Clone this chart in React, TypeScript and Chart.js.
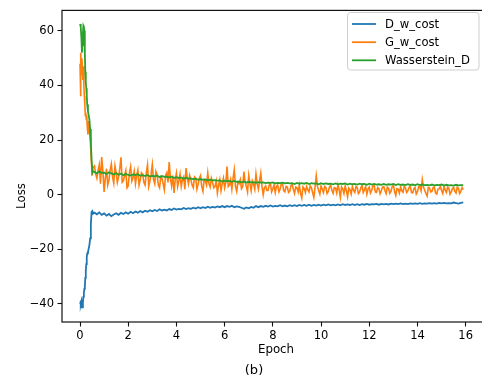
import React, { useEffect, useRef } from "react";
import { Chart, registerables } from "chart.js";

Chart.register(...registerables);

const FONT = "'DejaVu Sans', Verdana, sans-serif";

const SERIES_NAMES = ["D_w_cost", "G_w_cost", "Wasserstein_D"];
const SERIES_COLORS = ["#1f77b4", "#ff7f0e", "#2ca02c"];
const SERIES_WIDTHS = [1.8, 1.6, 1.8];
const X_TICKS = [0, 2, 4, 6, 8, 10, 12, 14, 16];
const Y_TICKS = [-40, -20, 0, 20, 40, 60];
const X_LABEL = "Epoch";
const Y_LABEL = "Loss";
const CAPTION = "(b)";

// first half epoch (sampled densely)
const EPOCHS_WARMUP = [
  0, 0.02, 0.04, 0.06, 0.08, 0.1, 0.12, 0.14, 0.16, 0.18, 0.2, 0.22,
  0.24, 0.26, 0.28, 0.3, 0.33, 0.36, 0.39, 0.42, 0.45, 0.48, 0.51, 0.54,
];
const D_W_COST_WARMUP = [
  -39.5, -38.8, -40.2, -39.0, -40.5, -41.3, -39.5, -37.5, -36.2, -34.5, -33.8, -30.5,
  -28.0, -25.5, -22.8, -21.5, -21.0, -19.8, -18.5, -16.0, -11.0, -6.3, -6.0, -7.0,
];
const G_W_COST_WARMUP = [
  48.0, 36.0, 52.0, 44.0, 50.0, 46.0, 42.0, 47.0, 40.0, 36.0, 33.0, 29.0,
  30.0, 27.5, 29.0, 25.0, 22.0, 27.0, 24.0, 21.0, 16.0, 11.0, 7.0, 10.0,
];
const WASSERSTEIN_D_WARMUP = [
  62.5, 62.3, 61.5, 57.0, 52.0, 54.8, 59.0, 61.9, 61.5, 60.0, 52.0, 45.0,
  41.0, 39.0, 36.0, 33.0, 30.5, 29.0, 27.5, 24.0, 19.0, 13.0, 8.0, 8.6,
];

// rest of training
const EPOCHS_MAIN = [
  0.6, 0.7, 0.8, 0.9, 1.0, 1.1, 1.2, 1.3, 1.4, 1.5,
  1.6, 1.7, 1.8, 1.9, 2.0, 2.1, 2.2, 2.3, 2.4, 2.5,
  2.6, 2.7, 2.8, 2.9, 3.0, 3.1, 3.2, 3.3, 3.4, 3.5,
  3.6, 3.7, 3.8, 3.9, 4.0, 4.1, 4.2, 4.3, 4.4, 4.5,
  4.6, 4.7, 4.8, 4.9, 5.0, 5.1, 5.2, 5.3, 5.4, 5.5,
  5.6, 5.7, 5.8, 5.9, 6.0, 6.1, 6.2, 6.3, 6.4, 6.5,
  6.6, 6.7, 6.8, 6.9, 7.0, 7.1, 7.2, 7.3, 7.4, 7.5,
  7.6, 7.7, 7.8, 7.9, 8.0, 8.1, 8.2, 8.3, 8.4, 8.5,
  8.6, 8.7, 8.8, 8.9, 9.0, 9.1, 9.2, 9.3, 9.4, 9.5,
  9.6, 9.7, 9.8, 9.9, 10.0, 10.1, 10.2, 10.3, 10.4, 10.5,
  10.6, 10.7, 10.8, 10.9, 11.0, 11.1, 11.2, 11.3, 11.4, 11.5,
  11.6, 11.7, 11.8, 11.9, 12.0, 12.1, 12.2, 12.3, 12.4, 12.5,
  12.6, 12.7, 12.8, 12.9, 13.0, 13.1, 13.2, 13.3, 13.4, 13.5,
  13.6, 13.7, 13.8, 13.9, 14.0, 14.1, 14.2, 14.3, 14.4, 14.5,
  14.6, 14.7, 14.8, 14.9, 15.0, 15.1, 15.2, 15.3, 15.4, 15.5,
  15.6, 15.7, 15.8, 15.9,
];
const D_W_COST_MAIN = [
  -6.6, -7.2, -6.5, -7.4, -6.9, -7.7, -7.1, -7.9, -7.3, -6.8,
  -7.4, -6.7, -7.1, -6.5, -7.0, -6.3, -6.8, -6.2, -6.6, -6.0,
  -6.5, -5.9, -6.3, -5.7, -6.1, -5.6, -6.0, -5.4, -5.8, -5.5,
  -5.8, -5.3, -5.6, -5.1, -5.5, -5.2, -5.4, -4.9, -5.3, -5.0,
  -5.2, -4.8, -5.1, -4.6, -5.0, -4.6, -4.9, -4.4, -4.8, -4.5,
  -4.7, -4.3, -4.6, -4.2, -4.6, -4.2, -4.5, -4.1, -4.6, -4.3,
  -4.5, -4.8, -5.2, -4.7, -5.0, -4.5, -4.8, -4.2, -4.6, -4.2,
  -4.5, -4.1, -4.4, -4.0, -4.4, -4.1, -4.3, -3.9, -4.3, -4.0,
  -4.3, -3.9, -4.2, -3.9, -4.2, -3.8, -4.1, -3.8, -4.1, -3.7,
  -4.1, -3.8, -4.0, -3.7, -4.0, -3.7, -3.9, -3.6, -3.9, -3.7,
  -3.9, -3.6, -3.9, -3.5, -3.8, -3.6, -3.8, -3.5, -3.8, -3.5,
  -3.8, -3.5, -3.7, -3.4, -3.7, -3.5, -3.6, -3.4, -3.7, -3.4,
  -3.6, -3.4, -3.6, -3.3, -3.5, -3.3, -3.5, -3.2, -3.5, -3.3,
  -3.5, -3.2, -3.4, -3.2, -3.4, -3.1, -3.4, -3.2, -3.3, -3.1,
  -3.3, -3.1, -3.3, -3.0, -3.2, -3.0, -3.2, -3.1, -3.2, -2.9,
  -3.1, -3.3, -3.0, -2.8,
];
const G_W_COST_MAIN = [
  10.5, 6.0, 11.0, 13.8, 1.0, 9.5, 5.2, 11.2, 4.2, 8.0,
  6.5, 13.7, 5.0, 8.8, 3.2, 10.3, 6.2, 4.0, 9.0, 5.5,
  7.5, 3.5, 10.9, 5.0, 11.0, 4.0, 7.2, 2.5, 6.0, 1.8,
  8.0, 11.9, 3.2, 0.6, 7.9, 5.0, 3.0, 6.5, 9.7, 4.0,
  5.5, 2.5, 6.0, 3.8, 7.0, 1.2, 5.0, 7.9, 2.8, 4.5,
  3.0, 0.6, 5.5, 4.0, 2.5, 10.3, 3.5, 2.0, 9.1, 1.2,
  4.0, 2.2, 8.4, 3.0, 7.0, 1.5, 3.8, 7.5, 2.0, 7.9,
  0.0, 3.2, 1.5, 4.0, 2.2, 0.8, 3.5, 2.0, 4.2, 1.0,
  2.8, 1.2, 3.8, 0.5, 2.5, 3.5, -1.2, 2.2, 3.0, 1.0,
  2.5, -1.0, 6.9, 1.5, 3.2, 0.8, 2.6, 1.2, 3.5, 0.5,
  2.4, 3.6, -1.0, 2.0, 3.2, -0.8, 1.8, 3.0, 0.8, 2.6,
  1.0, 3.4, 1.8, 0.2, 2.8, 1.5, 3.6, 0.8, 2.2, 1.4,
  3.0, 0.4, 2.4, 1.2, 3.4, -0.3, 2.0, 2.8, 0.9, 2.5,
  1.4, 3.2, 0.6, 2.6, 1.1, 3.0, 5.5, 1.6, -0.5, 2.4,
  1.2, 2.8, 0.2, 2.2, 1.5, 3.0, 0.8, 2.4, 1.0, 2.7,
  0.6, 2.3, 1.2, 1.8,
];
const WASSERSTEIN_D_MAIN = [
  8.3, 7.8, 8.5, 7.9, 8.1, 7.5, 8.2, 7.8, 7.4, 7.9,
  7.3, 7.7, 7.1, 7.6, 7.2, 7.0, 7.4, 7.2, 7.5, 6.9,
  7.1, 6.8, 7.2, 6.6, 6.9, 6.7, 7.0, 6.4, 6.8, 6.5,
  6.6, 6.3, 6.6, 6.1, 6.4, 6.1, 6.3, 5.8, 6.2, 5.9,
  5.9, 5.7, 5.8, 5.4, 5.7, 5.4, 5.6, 5.2, 5.5, 5.2,
  5.3, 5.1, 5.2, 4.8, 5.1, 4.9, 5.0, 4.7, 5.0, 4.7,
  4.8, 4.5, 4.8, 4.4, 4.7, 4.5, 4.6, 4.3, 4.6, 4.4,
  4.5, 4.2, 4.4, 4.3, 4.5, 4.1, 4.3, 4.2, 4.4, 4.1,
  4.3, 4.1, 4.2, 3.9, 4.3, 4.0, 4.2, 4.0, 4.3, 3.9,
  4.2, 4.0, 4.1, 3.8, 4.2, 3.9, 4.1, 3.9, 4.0, 3.8,
  4.1, 3.8, 4.0, 3.9, 4.1, 3.7, 4.0, 3.8, 3.9, 3.7,
  4.0, 3.8, 3.9, 3.6, 4.0, 3.7, 3.9, 3.7, 3.8, 3.6,
  3.9, 3.6, 3.8, 3.7, 3.9, 3.5, 3.8, 3.6, 3.7, 3.5,
  3.8, 3.6, 3.7, 3.4, 3.8, 3.5, 3.7, 3.5, 3.6, 3.4,
  3.7, 3.4, 3.6, 3.5, 3.7, 3.3, 3.6, 3.4, 3.5, 3.3,
  3.6, 3.4, 3.5, 3.5,
];

// G_w_cost is much noisier: extra readings half-way between the main epochs
const EPOCHS_G_EXTRA = [
  0.65, 0.75, 0.85, 0.95, 1.05, 1.15, 1.25, 1.35, 1.45, 1.55,
  1.65, 1.75, 1.85, 1.95, 2.05, 2.15, 2.25, 2.35, 2.45, 2.55,
  2.65, 2.75, 2.85, 2.95, 3.05, 3.15, 3.25, 3.35, 3.45, 3.55,
  3.65, 3.75, 3.85, 3.95, 4.05, 4.15, 4.25, 4.35, 4.45, 4.55,
  4.65, 4.75, 4.85, 4.95, 5.05, 5.15, 5.25, 5.35, 5.45, 5.55,
  5.65, 5.75, 5.85, 5.95, 6.05, 6.15, 6.25, 6.35, 6.45, 6.55,
  6.65, 6.75, 6.85, 6.95, 7.05, 7.15, 7.25, 7.35, 7.45, 7.55,
  7.65, 7.75, 7.85, 7.95, 8.05, 8.15, 8.25, 8.35, 8.45, 8.55,
  8.65, 8.75, 8.85, 8.95, 9.05, 9.15, 9.25, 9.35, 9.45, 9.55,
  9.65, 9.75, 9.85, 9.95, 10.05, 10.15, 10.25, 10.35, 10.45, 10.55,
  10.65, 10.75, 10.85, 10.95, 11.05, 11.15, 11.25, 11.35, 11.45, 11.55,
  11.65, 11.75, 11.85, 11.95, 12.05, 12.15, 12.25, 12.35, 12.45, 12.55,
  12.65, 12.75, 12.85, 12.95, 13.05, 13.15, 13.25, 13.35, 13.45, 13.55,
  13.65, 13.75, 13.85, 13.95, 14.05, 14.15, 14.25, 14.35, 14.45, 14.55,
  14.65, 14.75, 14.85, 14.95, 15.05, 15.15, 15.25, 15.35, 15.45, 15.55,
  15.65, 15.75, 15.85,
];
const G_W_COST_EXTRA = [
  7.5, 9.0, 4.0, 8.5, 6.0, 3.5, 9.0, 6.5, 10.5, 4.5,
  9.5, 4.5, 7.0, 2.5, 8.0, 5.0, 8.5, 7.0, 3.5, 8.0,
  4.5, 8.0, 3.0, 7.5, 5.5, 8.5, 3.5, 6.5, 4.0, 7.0,
  4.5, 6.0, 7.0, 5.5, 3.0, 7.5, 5.5, 2.0, 6.0, 7.0,
  3.5, 6.5, 2.0, 6.0, 3.0, 5.5, 3.5, 4.0, 6.0, 2.5,
  5.0, 3.5, 1.5, 6.0, 4.5, 3.0, 5.5, 6.0, 3.0, 4.5,
  5.5, 3.0, 4.5, 1.0, 4.0, 5.0, 2.0, 4.0, 5.0, 3.0,
  2.5, 1.5, 3.5, 1.0, 3.5, 3.0, 1.0, 4.0, 1.5, 3.0,
  0.8, 3.2, 2.0, 2.8, 1.0, 0.5, 2.8, 0.8, 1.8, 3.2,
  0.8, 2.6, 3.0, 0.2, 2.0, 3.0, 0.4, 2.8, 1.6, 2.6,
  0.6, 1.8, 2.8, 0.4, 1.5, 2.4, 0.2, 1.6, 3.0, 0.4,
  2.5, 0.8, 3.0, 2.0, 0.6, 3.2, 1.0, 2.6, 0.3, 2.8,
  1.5, 2.8, 0.5, 3.0, 1.2, 2.2, 0.6, 1.4, 3.0, 0.8,
  2.6, 0.8, 2.2, 0.2, 3.0, 1.4, 2.8, 0.4, 2.6, 1.0,
  2.6, 0.6, 2.0, 3.0, 0.4, 1.6, 2.8, 0.2, 2.2, 1.2,
  2.8, 0.4, 2.6,
];

type Pt = { x: number; y: number };
const zipPoints = (xs: number[], ys: number[]): Pt[] => xs.map((x, j) => ({ x, y: ys[j] }));

const SERIES_POINTS: Pt[][] = [
  zipPoints([...EPOCHS_WARMUP, ...EPOCHS_MAIN], [...D_W_COST_WARMUP, ...D_W_COST_MAIN]),
  [
    ...zipPoints(EPOCHS_WARMUP, G_W_COST_WARMUP),
    ...zipPoints(EPOCHS_MAIN, G_W_COST_MAIN),
    ...zipPoints(EPOCHS_G_EXTRA, G_W_COST_EXTRA),
  ].sort((a, b) => a.x - b.x),
  zipPoints([...EPOCHS_WARMUP, ...EPOCHS_MAIN], [...WASSERSTEIN_D_WARMUP, ...WASSERSTEIN_D_MAIN]),
];

const fmtMinus = (v: number | string) => String(v).replace("-", "\u2212");

const decorations = {
  id: "decorations",
  afterDraw(chart: any) {
    const { ctx, chartArea: a } = chart;
    ctx.save();
    // frame (spines)
    ctx.strokeStyle = "#111";
    ctx.lineWidth = 1.2;
    ctx.strokeRect(a.left, a.top, a.right - a.left, a.bottom - a.top);

    // legend
    const lx = 347.5, ly = 12.5, lw = 131.5, lh = 57.5, r = 3;
    ctx.beginPath();
    ctx.moveTo(lx + r, ly);
    ctx.lineTo(lx + lw - r, ly);
    ctx.quadraticCurveTo(lx + lw, ly, lx + lw, ly + r);
    ctx.lineTo(lx + lw, ly + lh - r);
    ctx.quadraticCurveTo(lx + lw, ly + lh, lx + lw - r, ly + lh);
    ctx.lineTo(lx + r, ly + lh);
    ctx.quadraticCurveTo(lx, ly + lh, lx, ly + lh - r);
    ctx.lineTo(lx, ly + r);
    ctx.quadraticCurveTo(lx, ly, lx + r, ly);
    ctx.closePath();
    ctx.fillStyle = "rgba(255,255,255,0.8)";
    ctx.fill();
    ctx.strokeStyle = "#cfcfcf";
    ctx.lineWidth = 1;
    ctx.stroke();
    const rows = [24, 42.2, 60.3];
    ctx.font = `11.6px ${FONT}`;
    ctx.textAlign = "left";
    ctx.textBaseline = "middle";
    SERIES_NAMES.forEach((name, i) => {
      ctx.strokeStyle = SERIES_COLORS[i];
      ctx.lineWidth = 1.8;
      ctx.beginPath();
      ctx.moveTo(352, rows[i]);
      ctx.lineTo(376, rows[i]);
      ctx.stroke();
      ctx.fillStyle = "#000";
      ctx.fillText(name, 385, rows[i] + 0.5);
    });

    // axis labels and caption
    ctx.fillStyle = "#000";
    ctx.textAlign = "center";
    ctx.textBaseline = "middle";
    ctx.font = `11.8px ${FONT}`;
    ctx.fillText(X_LABEL, 276, 350);
    ctx.save();
    ctx.translate(22, 196);
    ctx.rotate(-Math.PI / 2);
    ctx.fillText(Y_LABEL, 0, 0);
    ctx.restore();
    ctx.font = `13px ${FONT}`;
    ctx.fillText(CAPTION, 254, 371);
    ctx.restore();
  },
};

export default function App() {
  const ref = useRef<HTMLCanvasElement | null>(null);

  useEffect(() => {
    const canvas = ref.current;
    if (!canvas) return;
    const datasets = SERIES_NAMES.map((name, i) => ({
      label: name,
      data: SERIES_POINTS[i],
      borderColor: SERIES_COLORS[i],
      backgroundColor: SERIES_COLORS[i],
      borderWidth: SERIES_WIDTHS[i],
      pointRadius: 0,
      tension: 0,
      fill: false,
      order: 3 - i,
    }));
    const tickFont = { family: FONT, size: 11.5 };
    const chart = new Chart(canvas, {
      type: "line",
      data: { datasets },
      options: {
        animation: false,
        responsive: false,
        devicePixelRatio: 1,
        layout: { padding: { left: 0, right: 2, top: 8, bottom: 0 } },
        plugins: { legend: { display: false }, tooltip: { enabled: false } },
        events: [],
        scales: {
          x: {
            type: "linear",
            min: -0.747,
            max: 16.76,
            border: { display: false },
            grid: {
              drawOnChartArea: false,
              drawTicks: true,
              tickLength: 4.5,
              tickColor: "#111",
              tickWidth: 1.1,
            },
            ticks: {
              font: tickFont,
              color: "#000",
              padding: 3,
              maxRotation: 0,
              autoSkip: false,
              callback: (v: any) => fmtMinus(v),
            },
            afterBuildTicks: (s: any) => {
              s.ticks = X_TICKS.map((value) => ({ value }));
            },
            afterFit: (s: any) => {
              s.height = 59;
            },
          },
          y: {
            type: "linear",
            min: -46.67,
            max: 67.5,
            border: { display: false },
            grid: {
              drawOnChartArea: false,
              drawTicks: true,
              tickLength: 4.5,
              tickColor: "#111",
              tickWidth: 1.1,
            },
            ticks: {
              font: tickFont,
              color: "#000",
              padding: 3.5,
              autoSkip: false,
              callback: (v: any) => fmtMinus(v),
            },
            afterBuildTicks: (s: any) => {
              s.ticks = Y_TICKS.map((value) => ({ value }));
            },
            afterFit: (s: any) => {
              s.width = 62;
            },
          },
        },
      },
      plugins: [decorations],
    });
    return () => chart.destroy();
  }, []);

  return (
    <div
      style={{
        position: "absolute",
        left: 0,
        top: 0,
        width: 482,
        height: 381,
        overflow: "hidden",
        background: "#fff",
      }}
    >
      <canvas ref={ref} width={486} height={381} style={{ display: "block", width: 486, height: 381 }} />
    </div>
  );
}
